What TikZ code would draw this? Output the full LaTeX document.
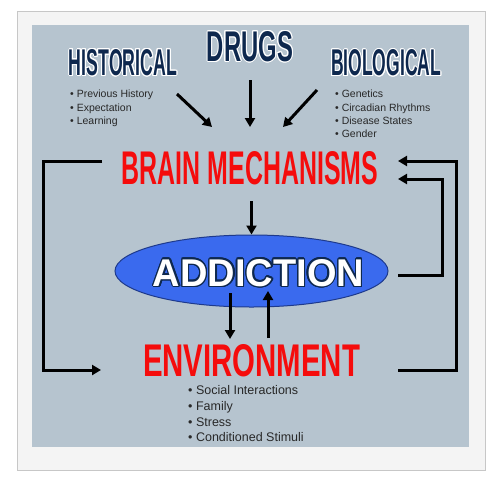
\documentclass[tikz,border=0pt]{standalone}
\usepackage{fontspec}
\setmainfont{Liberation Sans}
\usepackage{contour}
\usetikzlibrary{arrows.meta,shapes.geometric}
\definecolor{panelblue}{RGB}{182,196,207}
\definecolor{framegray}{RGB}{244,244,244}
\definecolor{headnavy}{RGB}{14,40,78}
\definecolor{headred}{RGB}{245,12,12}
\definecolor{ovalblue}{RGB}{58,106,238}
\definecolor{ovaledge}{RGB}{30,58,140}
\definecolor{bullgray}{RGB}{40,40,40}
\contourlength{1pt}
\tikzset{
	heading/.style={inner sep=0, text=headnavy},
	redhead/.style={inner sep=0, text=headred},
	bulletline/.style={inner sep=0, anchor=base west, text=bullgray, font=\fontsize{10.5}{12}\selectfont},
	envline/.style={inner sep=0, anchor=base west, text=bullgray, font=\fontsize{12.5}{14}\selectfont},
	bigarrow/.style={line width=3pt, -{Triangle[width=10pt,length=9pt]}},
	loopline/.style={line width=3pt, line join=miter, -{Triangle[width=10pt,length=9pt]}}
}

\begin{document}
\begin{tikzpicture}[x=1pt, y=-1pt]
			%%%%% START %%%%%
			
			\useasboundingbox (0, 0) rectangle (500, 480);
			\fill[white] (0, 0) rectangle (500, 480);
			
			\draw[fill=framegray, draw=black!22, line width=1pt] (17, 11) rectangle (485, 470);
			\fill[panelblue] (32, 25) rectangle (469, 447);
			
			% headings
			\node[heading] (drugs) at (250, 47) {\contour{white}{\resizebox{86pt}{30pt}{\bfseries DRUGS}}};
			\node[heading] (hist) at (123, 63) {\contour{white}{\resizebox{108pt}{26pt}{\bfseries HISTORICAL}}};
			\node[heading] (bio) at (386, 63.5) {\contour{white}{\resizebox{110pt}{26pt}{\bfseries BIOLOGICAL}}};
			
			\node[bulletline] (hist1) at (70, 97) {• Previous History};
			\node[bulletline] (hist2) at (70, 111) {• Expectation};
			\node[bulletline] (hist3) at (70, 124) {• Learning};
			
			\node[bulletline] (bio1) at (335, 97) {• Genetics};
			\node[bulletline] (bio2) at (335, 111) {• Circadian Rhythms};
			\node[bulletline] (bio3) at (335, 124) {• Disease States};
			\node[bulletline] (bio4) at (335, 137) {• Gender};
			
			\node[redhead] (brain) at (250, 168.5) {\resizebox{256pt}{33pt}{\bfseries BRAIN MECHANISMS}};
			
			\node[ellipse, fill=ovalblue, draw=ovaledge, line width=1pt, minimum width=273pt, minimum height=72pt] (addict) at (251.5, 271) {};
			\node[inner sep=0, text=white] (addlabel) at (258.5, 273.5) {\contourlength{1.3pt}\contour{headnavy}{\resizebox{211pt}{27pt}{\bfseries ADDICTION}}};
			
			\node[redhead] (env) at (251.5, 361) {\resizebox{217pt}{32pt}{\bfseries ENVIRONMENT}};
			
			\node[envline] (env1) at (188, 394.5) {• Social Interactions};
			\node[envline] (env2) at (188, 410.5) {• Family};
			\node[envline] (env3) at (188, 426.5) {• Stress};
			\node[envline] (env4) at (188, 441.5) {• Conditioned Stimuli};
			
			% arrows into brain mechanisms
			\coordinate (histout) at (177, 94);
			\coordinate (histin) at (212, 127);
			\coordinate (drugout) at (250, 80);
			\coordinate (drugin) at (250, 127);
			\coordinate (bioout) at (317, 90);
			\coordinate (bioin) at (283, 127);
			\draw[bigarrow] (histout) -- (histin);
			\draw[bigarrow] (drugout) -- (drugin);
			\draw[bigarrow] (bioout) -- (bioin);
			
			% brain -> addiction <-> environment
			\draw[bigarrow] (brain.south -| addict.north) ++(0, 16) -- (addict.north);
			\coordinate (downtop) at (230, 293);
			\coordinate (downbot) at (230, 339);
			\coordinate (uptop) at (268, 291);
			\coordinate (upbot) at (268, 338);
			\draw[bigarrow] (downtop) -- (downbot);
			\draw[bigarrow] (upbot) -- (uptop);
			
			% feedback loops
			\coordinate (brainleft) at (102, 161);
			\coordinate (envleft) at (101, 370);
			\coordinate (brainright) at (398, 161);
			\coordinate (brainright2) at (398, 179);
			\coordinate (envright) at (398, 370);
			\coordinate (addright) at (398, 275);
			\draw[loopline] (brainleft) -- (43, 161) -- (43, 370) -- (envleft);
			\draw[loopline] (envright) -- (456, 370) -- (456, 161) -- (brainright);
			\draw[loopline] (addright) -- (442, 275) -- (442, 179) -- (brainright2);
			
			%%%%% END %%%%%
\end{tikzpicture}
\end{document}
